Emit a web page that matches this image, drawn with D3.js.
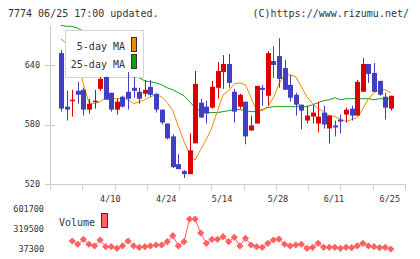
<!DOCTYPE html>
<html><head><meta charset="utf-8">
<script src="https://cdn.jsdelivr.net/npm/d3@7"></script>
<style>
html,body{margin:0;padding:0;background:#fff;}
svg{display:block;}
text{font-family:"DejaVu Sans Mono","Liberation Mono",monospace;fill:#333;}
</style></head>
<body>
<svg id="c" width="420" height="259"></svg>
<script>
// ---- data ----
const openP  = [652,598,604,614,615,595,603,616,628,612,595,608,613,617,613,611,618,611,595,581,568,540,533,530,561,602,598,597,617,633,641,613,598,603,574,581,617,609,644,649,637,620,610,600,584,588,581,592,576,579,585,590,596,589,613,641,632,624,608,596];
const highP  = [655,614,615,623,617,606,615,628,628,612,606,609,633,628,617,625,625,611,595,581,570,550,534,571,634,606,604,624,643,650,651,616,611,603,589,619,620,654,659,667,645,630,612,600,599,600,603,599,589,584,590,597,599,625,647,641,642,624,612,609];
const lowP   = [593,584,588,601,589,591,596,614,605,593,590,597,595,607,601,608,608,592,580,565,536,535,526,530,561,587,581,596,606,616,617,582,596,560,574,581,599,599,627,617,615,603,589,575,581,581,572,576,561,568,571,582,584,589,613,622,613,609,585,594];
const closeP = [596,595,605,610,595,601,604,626,605,595,603,598,606,614,606,615,610,595,582,566,537,535,530,554,621,587,591,618,634,641,622,593,610,568,579,619,615,652,640,626,615,607,600,594,589,592,588,580,589,577,583,595,589,623,641,631,613,610,597,609];
const ma5    = [666,662,655,644,621,602,601,603,607,606,606,607,605,601,603,605,608,610,608,602,594,578,563,550,544,555,565,577,594,610,614,621,622,620,607,594,594,598,607,621,630,630,628,618,608,601,596,593,589,588,585,583,585,587,596,606,612,615,615,612];
const ma25   = [680,679,679,677,674,670,666,661,656,651,645,640,635,630,627,624,623,622,620,617,615,612,609,603,597,593,592,592,592,593,594,595,595,594,593,593,595,597,598,598,598,598,598,598,598,600,602,604,605,607,605,606,606,606,606,606,605,606,606,606];
const volume = [null,null,150000,104000,174000,104000,80000,164000,70000,70000,47000,80000,150000,80000,61000,70000,80000,94000,94000,140000,225000,80000,140000,460000,460000,263000,118000,174000,174000,211000,140000,202000,80000,188000,94000,70000,61000,118000,164000,178000,104000,80000,94000,104000,47000,61000,118000,61000,61000,61000,47000,61000,56000,80000,118000,80000,70000,56000,61000,37300];
const dateTickIdx = [9,19,29,39,49,59];
const dateTickLabels = ["4/10","4/24","5/14","5/28","6/11","6/25"];
const priceTicks = [520,580,640];
const volTicks = [37300,319500,601700];
const volTickLabels = ["37300","319500","601700"];

// ---- scales ----
const svg = d3.select("#c");
const x = d3.scaleLinear().domain([0,59]).range([61,390.8]);
const y = d3.scaleLinear().domain([520,640]).range([184,65]);
const yv = d3.scaleLinear().domain([37300,601700]).range([249,209]);
const gridX = d3.scaleLinear().domain([0,11]).range([50,405]);

const AX="#cccccc", UP="#dd0000", DN="#4040c0", ORG="#f08a00", GRN="#10a010", VOL="#ff6060";

// header
svg.append("text").attr("x",8).attr("y",16.5).attr("font-size","10px").text("7774 06/25 17:00 updated.");
svg.append("text").attr("x",409).attr("y",16.5).attr("text-anchor","end").attr("font-size","10px").text("(C)https://www.rizumu.net/");

// axes
svg.append("line").attr("x1",50.5).attr("x2",50.5).attr("y1",25).attr("y2",184.5).attr("stroke",AX);
svg.append("line").attr("x1",50).attr("x2",405.5).attr("y1",184.5).attr("y2",184.5).attr("stroke",AX);
svg.selectAll(".yt").data(priceTicks).enter().append("line")
  .attr("x1",45).attr("x2",55).attr("y1",d=>Math.round(y(d))+0.5).attr("y2",d=>Math.round(y(d))+0.5).attr("stroke",AX);
svg.selectAll(".yl").data(priceTicks).enter().append("text")
  .attr("x",40).attr("y",d=>y(d)).attr("dy","0.35em").attr("text-anchor","end").attr("font-size","8.5px").text(d=>d);
svg.selectAll(".xt").data(d3.range(12)).enter().append("line")
  .attr("x1",d=>Math.round(gridX(d))+0.5).attr("x2",d=>Math.round(gridX(d))+0.5).attr("y1",184).attr("y2",190).attr("stroke",AX);
svg.selectAll(".xl").data(dateTickIdx).enter().append("text")
  .attr("x",d=>x(d)-1).attr("y",202).attr("text-anchor","middle").attr("font-size","8.5px").text((d,i)=>dateTickLabels[i]);

// moving averages
const line = arr => d3.line().x((d,i)=>x(i)).y(d=>y(d))(arr);
svg.append("path").attr("d",line(ma25)).attr("fill","none").attr("stroke",GRN).attr("stroke-width",1);
svg.append("path").attr("d",line(ma5)).attr("fill","none").attr("stroke",ORG).attr("stroke-width",1);

// legend
svg.append("rect").attr("x",65.5).attr("y",30.5).attr("width",78).attr("height",47).attr("fill","#fff").attr("stroke","#d4d4d4");
svg.append("text").attr("x",125).attr("y",50).attr("text-anchor","end").attr("font-size","10px").text("5-day MA");
svg.append("text").attr("x",125).attr("y",67.5).attr("text-anchor","end").attr("font-size","10px").text("25-day MA");
svg.append("rect").attr("x",131.5).attr("y",37.5).attr("width",5).attr("height",14).attr("fill",ORG).attr("stroke","#333");
svg.append("rect").attr("x",131.5).attr("y",54.5).attr("width",5).attr("height",14).attr("fill",GRN).attr("stroke","#333");

// candles
const idx = d3.range(closeP.length);
const cg = svg.append("g");
cg.selectAll(".wick").data(idx).enter().append("line")
  .attr("x1",i=>Math.round(x(i))+0.5).attr("x2",i=>Math.round(x(i))+0.5)
  .attr("y1",i=>y(highP[i])).attr("y2",i=>y(lowP[i]))
  .attr("stroke",i=>closeP[i]>=openP[i]?UP:DN);
cg.selectAll(".body").data(idx).enter().append("rect")
  .attr("x",i=>Math.round(x(i))-2).attr("width",5)
  .attr("y",i=>y(Math.max(openP[i],closeP[i])))
  .attr("height",i=>Math.max(1.5,Math.abs(y(openP[i])-y(closeP[i]))))
  .attr("fill",i=>closeP[i]>=openP[i]?UP:DN);

// volume
svg.selectAll(".vl").data(volTicks).enter().append("text")
  .attr("x",44).attr("y",d=>yv(d)).attr("dy","0.35em").attr("text-anchor","end").attr("font-size","8.5px").text((d,i)=>volTickLabels[i]);
svg.append("text").attr("x",59).attr("y",225.5).attr("font-size","10px").text("Volume");
svg.append("rect").attr("x",101.5).attr("y",213.5).attr("width",6).attr("height",14).attr("fill",VOL).attr("stroke","#333");
const vline = d3.line().defined(d=>d!=null).x((d,i)=>x(i)).y(d=>yv(d));
svg.append("path").attr("d",vline(volume)).attr("fill","none").attr("stroke",VOL).attr("stroke-width",1);
svg.selectAll(".vm").data(idx.filter(i=>volume[i]!=null)).enter().append("path")
  .attr("transform",i=>`translate(${x(i)},${yv(volume[i])})`)
  .attr("d","M0,-3.6L3.6,0L0,3.6L-3.6,0Z").attr("fill",VOL);
</script>
</body></html>
